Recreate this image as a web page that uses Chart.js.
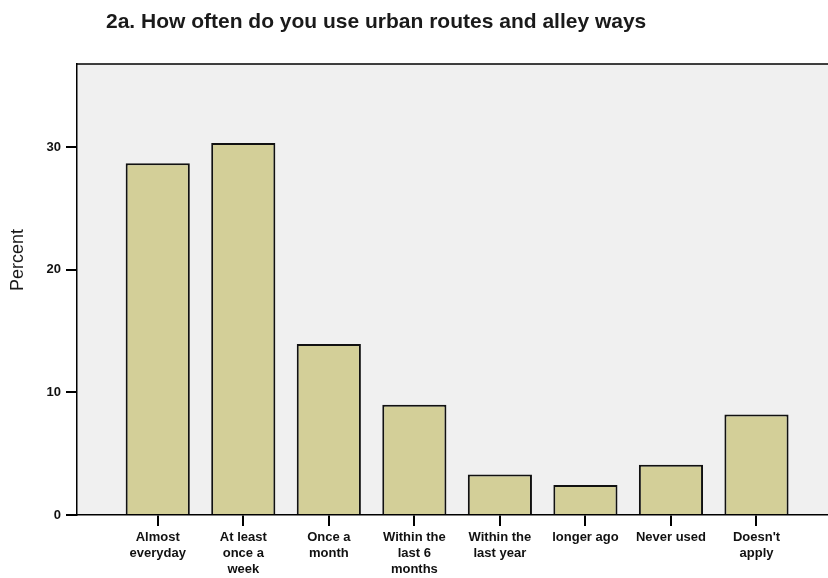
<!DOCTYPE html>
<html>
<head>
<meta charset="utf-8">
<script src="https://cdn.jsdelivr.net/npm/chart.js@4"></script>
<style>
    html, body { margin: 0; padding: 0; background: #fff; }
    #wrap { width: 828px; height: 578px; position: relative; }
</style>
</head>
<body>
<div id="wrap"><canvas id="myChart" width="828" height="578"></canvas></div>
<script>
// data
const chartTitle = '2a. How often do you use urban routes and alley ways';
const yAxisTitle = 'Percent';
const categories = [
    ['Almost', 'everyday'],
    ['At least', 'once a', 'week'],
    ['Once a', 'month'],
    ['Within the', 'last 6', 'months'],
    ['Within the', 'last year'],
    ['longer ago'],
    ['Never used'],
    ["Doesn't", 'apply']
];
const percentValues = [28.7, 30.35, 13.95, 9.0, 3.3, 2.45, 4.1, 8.2];
const yTicks = [0, 10, 20, 30];

const fontFamily = "'Liberation Sans', Arial, sans-serif";
const labelFont = { family: fontFamily, size: 13, weight: 'bold', lineHeight: 1.2 };

// background, top frame line, title and y-axis title
const framePlugin = {
    id: 'frame',
    beforeDraw(chart) {
        const { ctx, chartArea } = chart;
        ctx.save();
        ctx.fillStyle = '#f0f0f0';
        ctx.fillRect(chartArea.left, chartArea.top, chartArea.right - chartArea.left, chartArea.bottom - chartArea.top);
        ctx.strokeStyle = '#000';
        ctx.lineWidth = 1.5;
        ctx.beginPath();
        ctx.moveTo(chartArea.left, chartArea.top);
        ctx.lineTo(chartArea.right, chartArea.top);
        ctx.stroke();
        ctx.restore();
    },
    afterDraw(chart) {
        const ctx = chart.ctx;
        ctx.save();
        ctx.fillStyle = '#1a1a1a';
        ctx.font = 'bold 21px ' + fontFamily;
        ctx.textBaseline = 'middle';
        ctx.fillText(chartTitle, 106, 22);

        ctx.font = '18px ' + fontFamily;
        ctx.textAlign = 'center';
        ctx.translate(18, 260);
        ctx.rotate(-Math.PI / 2);
        ctx.fillText(yAxisTitle, 0, 0);
        ctx.restore();
    }
};

let barData = percentValues.map((v, i) => ({ x: i, y: v }));

const config = {
    type: 'bar',
    data: {
        datasets: [{
            label: 'Percent',
            data: barData,
            backgroundColor: '#d3cf98',
            borderColor: '#111',
            borderWidth: 2,
            categoryPercentage: 1,
            barPercentage: 0.75
        }]
    },
    options: {
        responsive: false,
        animation: false,
        layout: { padding: { top: 64, right: 0, left: 0, bottom: 0 } },
        plugins: {
            legend: { display: false },
            tooltip: { enabled: false }
        },
        scales: {
            x: {
                type: 'linear',
                offset: false,
                min: -0.944,
                max: 7.836,
                afterBuildTicks: function (scale) {
                    scale.ticks = categories.map((c, i) => ({ value: i }));
                },
                afterFit: function (scale) { scale.height = 63; },
                grid: { offset: false, drawOnChartArea: false, drawTicks: true, tickLength: 11, color: '#000', lineWidth: 2 },
                border: { display: true, color: '#000', width: 1.5 },
                ticks: {
                    autoSkip: false,
                    maxRotation: 0,
                    padding: 4,
                    color: '#111',
                    font: labelFont,
                    callback: function (value) { return categories[value]; }
                }
            },
            y: {
                min: 0,
                max: 36.8,
                afterBuildTicks: function (scale) {
                    scale.ticks = yTicks.map(v => ({ value: v }));
                },
                afterFit: function (scale) { scale.width = 77; },
                grid: { drawOnChartArea: false, drawTicks: true, tickLength: 11, color: '#000', lineWidth: 2 },
                border: { display: true, color: '#000', width: 1.5 },
                ticks: {
                    padding: 5,
                    color: '#111',
                    font: labelFont
                }
            }
        }
    },
    plugins: [framePlugin]
};

let chart = new Chart(document.getElementById('myChart').getContext('2d'), config);
</script>
</body>
</html>
